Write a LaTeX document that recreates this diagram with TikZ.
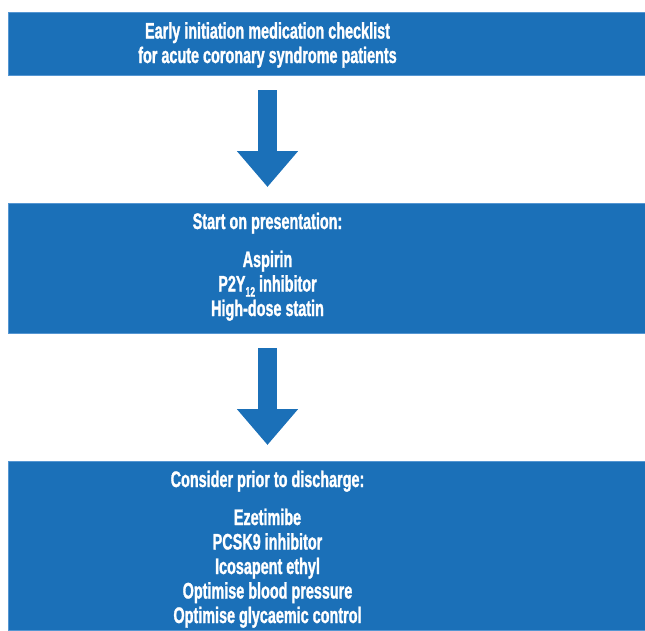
\documentclass[tikz,border=0pt]{standalone}
\usepackage{fontspec}
\setmainfont{Liberation Sans}[FakeStretch=0.64, BoldFeatures={FakeBold=1.2}]
\usetikzlibrary{arrows.meta}
\definecolor{boxblue}{RGB}{27,112,184}
\definecolor{edgeblue}{RGB}{85,150,210}
\begin{document}
\begin{tikzpicture}[x=1pt,y=-1pt,
  panel/.style={fill=boxblue, draw=edgeblue, line width=0.6pt, inner sep=0pt, outer sep=0pt},
  boxtext/.style={text=white, font=\fontsize{22.5}{24.5}\selectfont\bfseries, inner sep=0pt, anchor=base},
  flowarrow/.style={draw=boxblue, line width=19pt, line cap=butt, -{Triangle[width=59pt,length=36pt]}}]
\useasboundingbox (0,0) rectangle (645,630);
% boxes
\node[panel, minimum width=637pt, minimum height=63pt] (box1) at (326.5,43.5) {};
\node[panel, minimum width=637pt, minimum height=130pt] (box2) at (326.5,268) {};
\node[panel, minimum width=637pt, minimum height=169pt] (box3) at (326.5,545.5) {};
% texts
\node[boxtext] (t1) at (267.5,38.5) {\begin{tabular}[t]{@{}c@{}}Early initiation medication checklist\\for acute coronary syndrome patients\end{tabular}};
\node[boxtext] (t2) at (267.5,229) {\begin{tabular}[t]{@{}c@{}}Start on presentation:\\[13.5pt]Aspirin\\P2Y\raisebox{-5pt}{\fontsize{13.5}{13.5}\selectfont 12} inhibitor\\High-dose statin\end{tabular}};
\node[boxtext] (t3) at (267.5,487) {\begin{tabular}[t]{@{}c@{}}Consider prior to discharge:\\[13.5pt]Ezetimibe\\PCSK9 inhibitor\\Icosapent ethyl\\Optimise blood pressure\\Optimise glycaemic control\end{tabular}};
% arrows
\draw[flowarrow, shorten <=15pt, shorten >=16pt] (box1.south -| t1.base) -- (box2.north -| t1.base);
\draw[flowarrow, shorten <=15pt, shorten >=16pt] (box2.south -| t2.base) -- (box3.north -| t2.base);
\end{tikzpicture}
\end{document}
